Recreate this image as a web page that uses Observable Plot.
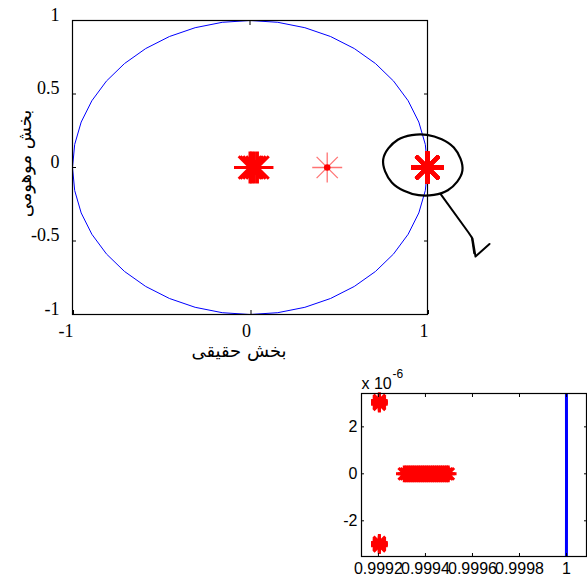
<!DOCTYPE html>
<html><head><meta charset="utf-8">
<script src="https://cdn.jsdelivr.net/npm/d3@7"></script>
<script src="https://cdn.jsdelivr.net/npm/@observablehq/plot@0.6"></script>
<style>
html,body{margin:0;padding:0;background:#fff;}
#wrap{position:relative;width:587px;height:576px;overflow:hidden;background:#fff;}
#main{position:absolute;left:0;top:0;}
#inset{position:absolute;left:330px;top:365px;}
</style></head><body><div id="wrap"><div id="main"></div><div id="inset"></div></div>
<script>
// ---- data ----
const mainXTicks = [-1, 0, 1];
const mainYTicks = [-1, -0.5, 0, 0.5, 1];
const insetXTicks = [0.9992, 0.9994, 0.9996, 0.9998, 1];
const insetYTicks = [-2e-6, 0, 2e-6];
const xLabel = "بخش حقیقی";
const yLabel = "بخش موهومی";
const circleSegments = 40;

// poles near the origin (real parts, imaginary 0)
const polesNearZeroX = [0.0, 0.01, 0.025, 0.042];
// faint pole with dot
const faintPoleX = [0.435];
// poles near 1: two conjugate groups and a row on the real axis
const cornerPoleX = [0.999204];
const cornerPoleYUp = [2.96e-6, 3.0e-6, 3.04e-6, 3.08e-6, 3.12e-6];
const cornerPoleYDown = [-2.92e-6, -2.96e-6, -3.0e-6, -3.03e-6, -3.06e-6];
const rowPoleX = [0.99931, 0.999318, 0.999327, 0.999335, 0.999344, 0.999352, 0.999361, 0.99937,
  0.999378, 0.999387, 0.999395, 0.999404, 0.999412, 0.999421, 0.99943, 0.999438,
  0.999447, 0.999455, 0.999464, 0.999472, 0.999481, 0.99949, 0.999497];

// hand-drawn annotation (data units of the main plot)
const ellipseX = [1.1966, 1.1144, 0.9499, 0.7989, 0.7504, 0.8327, 0.9972, 1.1482];
const ellipseY = [-0.0211, -0.1551, -0.1884, -0.1014, 0.0551, 0.1891, 0.2224, 0.1354];
const arrowX = [1.0732, 1.2310, 1.2535, 1.2704, 1.3493];
const arrowY = [-0.1789, -0.4422, -0.4830, -0.6054, -0.5204];
const arrowHeadX = [1.2479, 1.2620];
const arrowHeadY = [-0.4694, -0.5850];

// ---- derived tables ----
const circle = d3.range(circleSegments + 1).map(i => {
  const t = 2 * Math.PI * i / circleSegments;
  return {x: Math.cos(t), y: Math.sin(t)};
});
const nearZero = polesNearZeroX.map(x => ({x, y: 0}));
const faint = faintPoleX.map(x => ({x, y: 0}));
const nearOne = [
  ...cornerPoleX.flatMap(x => cornerPoleYUp.map(y => ({x, y}))),
  ...cornerPoleX.flatMap(x => cornerPoleYDown.map(y => ({x, y}))),
  ...rowPoleX.map(x => ({x, y: 0}))
];
const ellipse = ellipseX.map((x, i) => ({x, y: ellipseY[i]}));
const arrow = arrowX.map((x, i) => ({x, y: arrowY[i]}));
const arrowHead = arrowHeadX.map((x, i) => ({x, y: arrowHeadY[i]}));

// MATLAB-like '*' marker (8 arms)
const asterisk = {
  draw(context, size) {
    const r = Math.sqrt(size / Math.PI);
    const d = r * Math.SQRT1_2;
    context.moveTo(-r, 0); context.lineTo(r, 0);
    context.moveTo(0, -r); context.lineTo(0, r);
    context.moveTo(-d, -d); context.lineTo(d, d);
    context.moveTo(-d, d); context.lineTo(d, -d);
  }
};

const serif = "'Liberation Serif', 'Times New Roman', serif";
const persian = "'DejaVu Sans', sans-serif";
const sans = "'Liberation Sans', Arial, sans-serif";

const main = Plot.plot({
  width: 587, height: 370,
  marginLeft: 72, marginRight: 160, marginTop: 20, marginBottom: 56,
  style: {fontFamily: serif, fontSize: "18px", color: "black", background: "transparent", overflow: "visible"},
  x: {domain: [-1, 1]},
  y: {domain: [-1, 1]},
  marks: [
    Plot.line(circle, {x: "x", y: "y", stroke: "#0000ff", strokeWidth: 1}),
    Plot.frame({stroke: "black", strokeWidth: 1.2}),
    Plot.axisX(mainXTicks, {anchor: "bottom", tickSize: -4, tickPadding: 14, textAnchor: "end", dx: 1, tickFormat: d => String(d), label: null, fontSize: 18}),
    Plot.axisX(mainXTicks, {anchor: "top", tickSize: -4, tickFormat: () => "", label: null}),
    Plot.axisY(mainYTicks, {anchor: "left", tickSize: -4, tickPadding: 17, lineAnchor: "bottom", tickFormat: d => String(d), label: null, fontSize: 18}),
    Plot.axisY(mainYTicks, {anchor: "right", tickSize: -4, tickFormat: () => "", label: null}),
    Plot.dot(nearZero, {x: "x", y: "y", symbol: asterisk, r: 16, stroke: "#ff0000", strokeWidth: 3, fill: "none"}),
    Plot.dot(faint, {x: "x", y: "y", symbol: asterisk, r: 15, stroke: "#ff0000", strokeOpacity: 0.55, strokeWidth: 1.3, fill: "none"}),
    Plot.dot(faint, {x: "x", y: "y", r: 3.3, fill: "#ff0000", stroke: "none"}),
    Plot.dot(nearOne, {x: "x", y: "y", symbol: asterisk, r: 16, stroke: "#ff0000", strokeWidth: 3.5, fill: "none"}),
    Plot.line(ellipse, {x: "x", y: "y", curve: "catmull-rom-closed", stroke: "black", strokeWidth: 2.2}),
    Plot.line(arrow, {x: "x", y: "y", stroke: "black", strokeWidth: 2, strokeLinejoin: "round"}),
    Plot.line(arrowHead, {x: "x", y: "y", stroke: "black", strokeWidth: 1.5}),
    Plot.text([xLabel], {frameAnchor: "bottom", text: d => d, textAnchor: "middle", dx: -11, dy: 42, lineAnchor: "bottom", fontFamily: persian, fontSize: 18}),
    Plot.text([yLabel], {frameAnchor: "left", text: d => d, textAnchor: "middle", rotate: -90, dx: -47, dy: -4, lineAnchor: "middle", fontFamily: persian, fontSize: 18})
  ]
});
document.getElementById("main").append(main);

const inset = Plot.plot({
  width: 257, height: 211,
  marginLeft: 31, marginRight: 1, marginTop: 28, marginBottom: 20,
  style: {fontFamily: sans, fontSize: "16px", color: "black", background: "transparent", overflow: "visible"},
  x: {domain: [0.999128, 1.000085]},
  y: {domain: [-3.52e-6, 3.42e-6]},
  marks: [
    Plot.line(circle, {x: "x", y: "y", stroke: "#0000ff", strokeWidth: 3, clip: true}),
    Plot.dot(nearOne, {x: "x", y: "y", symbol: asterisk, r: 8.3, stroke: "#ff0000", strokeWidth: 3, fill: "none"}),
    Plot.frame({stroke: "black", strokeWidth: 1.2}),
    Plot.axisX(insetXTicks, {anchor: "bottom", tickSize: -3, tickPadding: 9, tickFormat: d => d === 1 ? "1" : d.toFixed(4), label: null, fontSize: 16}),
    Plot.axisX(insetXTicks, {anchor: "top", tickSize: -3, tickFormat: () => "", label: null}),
    Plot.axisY(insetYTicks, {anchor: "left", tickSize: -3, tickPadding: 7, tickFormat: d => String(Math.round(d * 1e6)), label: null, fontSize: 16}),
    Plot.axisY(insetYTicks, {anchor: "right", tickSize: -3, tickFormat: () => "", label: null}),
    Plot.text(["x 10"], {frameAnchor: "top-left", text: d => d, textAnchor: "start", lineAnchor: "bottom", dy: -5, fontSize: 16}),
    Plot.text(["-6"], {frameAnchor: "top-left", text: d => d, textAnchor: "start", lineAnchor: "bottom", dx: 31, dy: -16, fontSize: 12})
  ]
});
document.getElementById("inset").append(inset);
</script>
</body></html>
